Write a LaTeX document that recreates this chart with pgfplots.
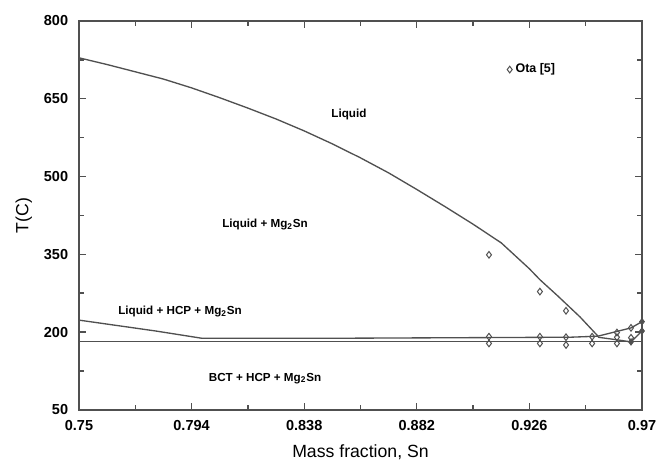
\documentclass[border=0pt]{standalone}
\usepackage{pgfplots}
\pgfplotsset{compat=1.18}
\usepackage{fontspec}
\setmainfont{Liberation Sans}
\setsansfont{Liberation Sans}

\definecolor{ln}{RGB}{80,80,80}

\begin{document}
\begin{tikzpicture}
\path[use as bounding box] (-47.4pt,-31.8pt) rectangle (347.6pt,246pt);
\begin{axis}[
  scale only axis,
  width=338pt, height=233.4pt,
  xmin=0.75, xmax=0.97, ymin=50, ymax=800,
  xtick={0.75,0.794,0.838,0.882,0.926,0.97},
  xticklabels={0.75,0.794,0.838,0.882,0.926,0.97},
  ytick={50,200,350,500,650,800},
  yticklabels={50,200,350,500,650,800},
  minor x tick num=1, minor y tick num=1,
  tick align=inside,
  major tick length=4pt, minor tick length=3pt,
  tick style={ln, line width=0.8pt},
  axis line style={ln, line width=1.2pt},
  tick label style={font=\bfseries\fontsize{8.7}{10}\selectfont},
  xticklabel style={yshift=-3pt},
  yticklabel style={xshift=-3pt},
  xlabel={Mass fraction, Sn}, ylabel={T(C)},
  label style={font=\fontsize{10.6}{12}\selectfont},
  xlabel style={at={(axis description cs:0.5,-0.108)}, anchor=center},
  ylabel style={at={(axis description cs:-0.098,0.5)}, anchor=center},
  legend style={draw=none, fill=none, at={(0.76,0.875)}, anchor=west,
    font=\bfseries\fontsize{7.5}{9}\selectfont, inner sep=0pt},
  legend cell align=left,
  clip=false,
]
% liquidus
\addplot[ln, line width=0.8pt, forget plot] coordinates {
  (0.75,729) (0.761,716) (0.772,702) (0.783,688) (0.794,671) (0.805,652)
  (0.816,632) (0.827,611) (0.838,588) (0.849,563) (0.860,536) (0.871,507)
  (0.882,475) (0.893,442) (0.904,408) (0.915,372) (0.926,322) (0.9301,301)
  (0.937,270) (0.9458,229) (0.9528,192)};
% Liquid + HCP boundary, left
\addplot[ln, line width=0.8pt, forget plot] coordinates {
  (0.75,223) (0.7800,202) (0.7980,188) (0.8500,188) (0.9420,190) (0.9528,192)};
% eutectic line
\addplot[ln, line width=0.8pt, forget plot] coordinates {(0.75,182) (0.97,182)};
% right side boundaries
\addplot[ln, line width=0.8pt, forget plot] coordinates {
  (0.9528,192) (0.9657,208) (0.97,220)};
\addplot[ln, line width=0.8pt, forget plot] coordinates {
  (0.9528,190) (0.9602,185) (0.9657,181) (0.97,202)};
\addplot[only marks, mark=diamond*, mark size=2pt, ln, forget plot] coordinates {
  (0.97,220) (0.97,202) (0.9657,181)};
% experimental data
\addplot[only marks, mark=diamond, mark size=2pt, ln, line width=0.6pt] coordinates {
  (0.9102,349) (0.9301,278) (0.9403,241) (0.9602,199) (0.9657,208)
  (0.9102,191) (0.9301,191) (0.9403,190) (0.9505,191) (0.9602,190) (0.9657,189)
  (0.9102,178) (0.9301,178) (0.9403,175) (0.9505,178) (0.9602,178)};
\addlegendentry{Ota [5]}

\begin{scope}[font=\bfseries\fontsize{7}{8}\selectfont]
\node at (axis cs:0.8555,619) {Liquid};
\node at (axis cs:0.8227,407) {Liquid + Mg\textsubscript{2}Sn};
\node at (axis cs:0.7895,239) {Liquid + HCP + Mg\textsubscript{2}Sn};
\node at (axis cs:0.8227,111) {BCT + HCP + Mg\textsubscript{2}Sn};
\end{scope}
\end{axis}
\end{tikzpicture}
\end{document}
